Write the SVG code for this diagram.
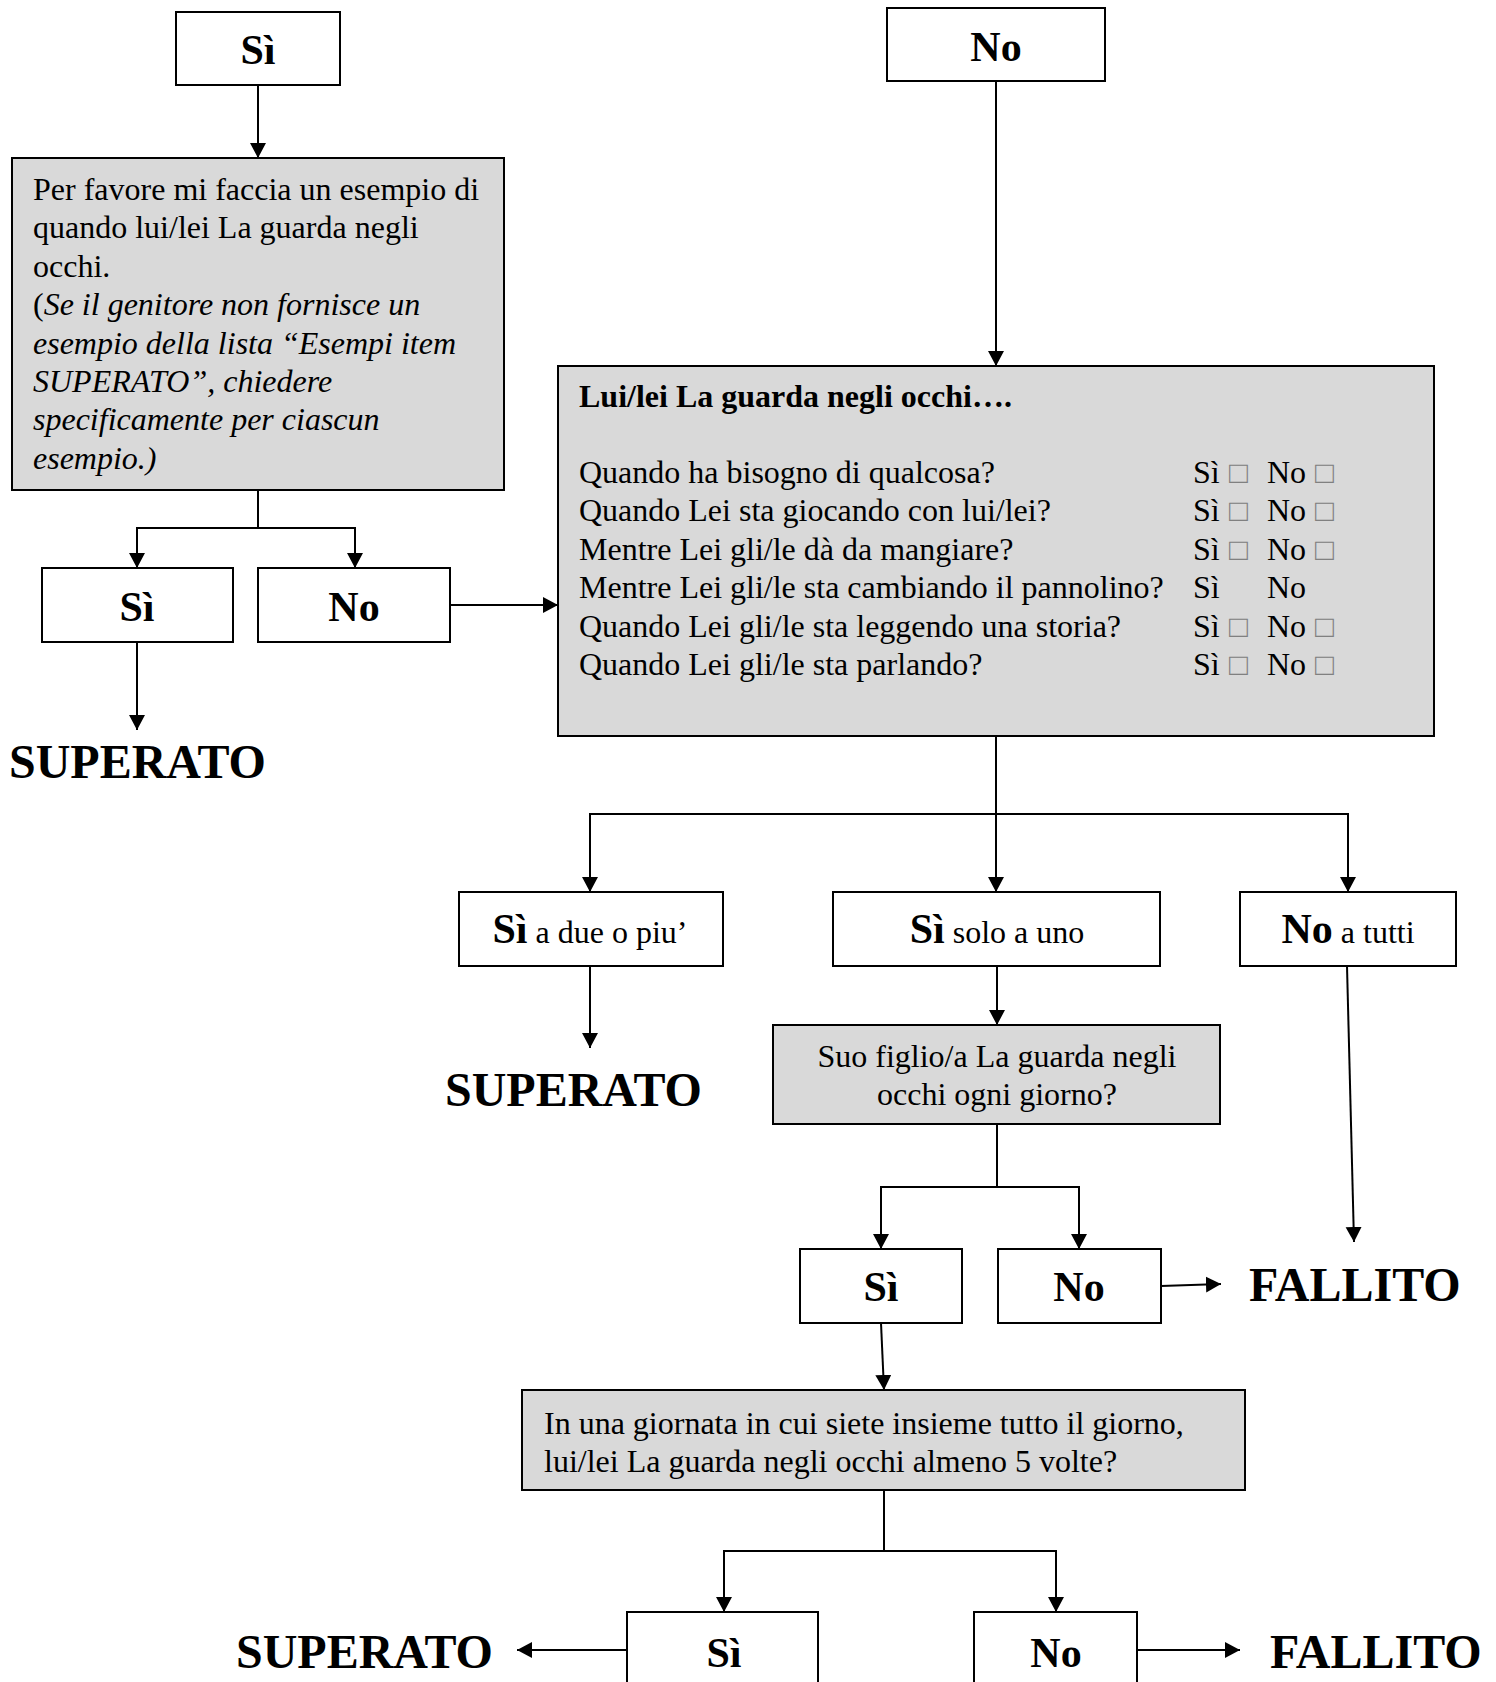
<svg xmlns="http://www.w3.org/2000/svg" width="1496" height="1682" viewBox="0 0 1496 1682">
<style>
text{font-family:"Liberation Serif","Times New Roman",serif;fill:#000}
.box{fill:#fff;stroke:#000;stroke-width:2}
.grey{fill:#d9d9d9;stroke:#000;stroke-width:2}
.b42{font-size:42px;font-weight:bold}
.b47{font-size:48px;font-weight:bold}
.t32{font-size:32px}
.bt32{font-size:32px;font-weight:bold}
.mid{text-anchor:middle}
.it{font-style:italic}
.chk{fill:#808080;font-size:31px}
.ln{fill:none;stroke:#000;stroke-width:2}
.arr{fill:none;stroke:#000;stroke-width:2;marker-end:url(#ah)}
</style>
<defs>
<marker id="ah" markerWidth="18" markerHeight="18" refX="15" refY="8" orient="auto" markerUnits="userSpaceOnUse"><path d="M0,0 L15,8 L0,16 Z" fill="#000"/></marker>
</defs>
<rect width="1496" height="1682" fill="#fff"/>

<g id="connectors">
<line class="arr" x1="258" y1="85" x2="258" y2="158"/>
<line class="arr" x1="996" y1="81" x2="996" y2="366"/>
<polyline class="ln" points="258,490 258,528"/>
<polyline class="arr" points="258,528 137,528 137,568"/>
<polyline class="arr" points="258,528 355,528 355,568"/>
<line class="arr" x1="450" y1="605" x2="558" y2="605"/>
<line class="arr" x1="137" y1="642" x2="137" y2="730"/>
<polyline class="ln" points="996,736 996,814"/>
<polyline class="arr" points="996,814 590,814 590,892"/>
<line class="arr" x1="996" y1="814" x2="996" y2="892"/>
<polyline class="arr" points="996,814 1348,814 1348,892"/>
<line class="arr" x1="590" y1="966" x2="590" y2="1048"/>
<line class="arr" x1="997" y1="966" x2="997" y2="1025"/>
<line class="arr" x1="1347" y1="966" x2="1354" y2="1242"/>
<polyline class="ln" points="997,1124 997,1187"/>
<polyline class="arr" points="997,1187 881,1187 881,1249"/>
<polyline class="arr" points="997,1187 1079,1187 1079,1249"/>
<line class="arr" x1="1161" y1="1286" x2="1221" y2="1284"/>
<line class="arr" x1="881" y1="1323" x2="884" y2="1390"/>
<polyline class="ln" points="884,1490 884,1551"/>
<polyline class="arr" points="884,1551 724,1551 724,1612"/>
<polyline class="arr" points="884,1551 1056,1551 1056,1612"/>
<line class="arr" x1="627" y1="1650" x2="517" y2="1650"/>
<line class="arr" x1="1137" y1="1650" x2="1240" y2="1650"/>
</g>

<g id="n-si-top">
<rect class="box" x="176" y="12" width="164" height="73"/>
<text class="b42 mid" x="258" y="64">Sì</text>
</g>

<g id="n-esempio">
<rect class="grey" x="12" y="158" width="492" height="332"/>
<text class="t32" x="33" y="200">Per favore mi faccia un esempio di</text>
<text class="t32" x="33" y="238.4">quando lui/lei La guarda negli</text>
<text class="t32" x="33" y="276.8">occhi.</text>
<text class="t32" x="33" y="315.2">(<tspan class="it">Se il genitore non fornisce un</tspan></text>
<text class="t32 it" x="33" y="353.6">esempio della lista “Esempi item</text>
<text class="t32 it" x="33" y="392">SUPERATO”, chiedere</text>
<text class="t32 it" x="33" y="430.4">specificamente per ciascun</text>
<text class="t32 it" x="33" y="468.8">esempio.)</text>
</g>

<g id="n-no-top">
<rect class="box" x="887" y="8" width="218" height="73"/>
<text class="b42 mid" x="996" y="61">No</text>
</g>

<g id="n-si-2">
<rect class="box" x="42" y="568" width="191" height="74"/>
<text class="b42 mid" x="137" y="621">Sì</text>
</g>

<g id="n-no-2">
<rect class="box" x="258" y="568" width="192" height="74"/>
<text class="b42 mid" x="354" y="621">No</text>
</g>

<g id="n-superato-1">
<text class="b47" x="9" y="778">SUPERATO</text>
</g>

<g id="n-lista">
<rect class="grey" x="558" y="366" width="876" height="370"/>
<text class="bt32" x="579" y="407">Lui/lei La guarda negli occhi….</text>
<text class="t32" x="579" y="483">Quando ha bisogno di qualcosa?</text>
<text class="t32" x="579" y="521.4">Quando Lei sta giocando con lui/lei?</text>
<text class="t32" x="579" y="559.8">Mentre Lei gli/le dà da mangiare?</text>
<text class="t32" x="579" y="598.2">Mentre Lei gli/le sta cambiando il pannolino?</text>
<text class="t32" x="579" y="636.6">Quando Lei gli/le sta leggendo una storia?</text>
<text class="t32" x="579" y="675">Quando Lei gli/le sta parlando?</text>
<text class="t32" x="1193" y="483">Sì</text><text class="chk" x="1229" y="483">□</text><text class="t32" x="1267" y="483">No</text><text class="chk" x="1315" y="483">□</text>
<text class="t32" x="1193" y="521.4">Sì</text><text class="chk" x="1229" y="521.4">□</text><text class="t32" x="1267" y="521.4">No</text><text class="chk" x="1315" y="521.4">□</text>
<text class="t32" x="1193" y="559.8">Sì</text><text class="chk" x="1229" y="559.8">□</text><text class="t32" x="1267" y="559.8">No</text><text class="chk" x="1315" y="559.8">□</text>
<text class="t32" x="1193" y="598.2">Sì</text><text class="t32" x="1267" y="598.2">No</text>
<text class="t32" x="1193" y="636.6">Sì</text><text class="chk" x="1229" y="636.6">□</text><text class="t32" x="1267" y="636.6">No</text><text class="chk" x="1315" y="636.6">□</text>
<text class="t32" x="1193" y="675">Sì</text><text class="chk" x="1229" y="675">□</text><text class="t32" x="1267" y="675">No</text><text class="chk" x="1315" y="675">□</text>
</g>

<g id="n-si-due">
<rect class="box" x="459" y="892" width="264" height="74"/>
<text class="mid" x="590" y="943"><tspan class="b42">Sì</tspan><tspan class="t32"> a due o piu’</tspan></text>
</g>

<g id="n-si-uno">
<rect class="box" x="833" y="892" width="327" height="74"/>
<text class="mid" x="997" y="943"><tspan class="b42">Sì</tspan><tspan class="t32"> solo a uno</tspan></text>
</g>

<g id="n-no-tutti">
<rect class="box" x="1240" y="892" width="216" height="74"/>
<text class="mid" x="1348" y="943"><tspan class="b42">No</tspan><tspan class="t32"> a tutti</tspan></text>
</g>

<g id="n-superato-2">
<text class="b47" x="445" y="1106">SUPERATO</text>
</g>

<g id="n-ogni-giorno">
<rect class="grey" x="773" y="1025" width="447" height="99"/>
<text class="t32 mid" x="997" y="1067">Suo figlio/a La guarda negli</text>
<text class="t32 mid" x="997" y="1105">occhi ogni giorno?</text>
</g>

<g id="n-si-3">
<rect class="box" x="800" y="1249" width="162" height="74"/>
<text class="b42 mid" x="881" y="1301">Sì</text>
</g>

<g id="n-no-3">
<rect class="box" x="998" y="1249" width="163" height="74"/>
<text class="b42 mid" x="1079" y="1301">No</text>
</g>

<g id="n-fallito-1">
<text class="b47" x="1249" y="1301">FALLITO</text>
</g>

<g id="n-cinque-volte">
<rect class="grey" x="522" y="1390" width="723" height="100"/>
<text class="t32" x="544" y="1434">In una giornata in cui siete insieme tutto il giorno,</text>
<text class="t32" x="544" y="1472">lui/lei La guarda negli occhi almeno 5 volte?</text>
</g>

<g id="n-si-4">
<rect class="box" x="627" y="1612" width="191" height="90"/>
<text class="b42 mid" x="724" y="1667">Sì</text>
</g>

<g id="n-no-4">
<rect class="box" x="974" y="1612" width="163" height="90"/>
<text class="b42 mid" x="1056" y="1667">No</text>
</g>

<g id="n-superato-3">
<text class="b47" x="236" y="1668">SUPERATO</text>
</g>

<g id="n-fallito-2">
<text class="b47" x="1270" y="1668">FALLITO</text>
</g>
</svg>
